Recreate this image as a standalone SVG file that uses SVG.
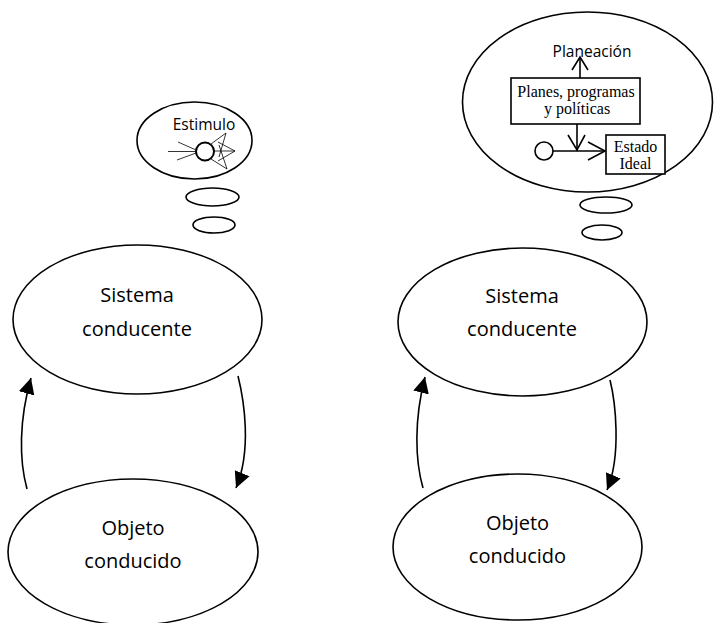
<svg xmlns="http://www.w3.org/2000/svg" width="714" height="623" viewBox="0 0 714 623">
<defs>
<style>
.sh{fill:#fff;stroke:#000;stroke-width:1.6}
.th{fill:none;stroke:#000;stroke-width:0.8}
.ln{fill:none;stroke:#000;stroke-width:1.6}
.lab{font-family:"Open Sans","Liberation Sans",sans-serif;font-size:20px;fill:#000;text-anchor:middle}
.sm{font-family:"Open Sans","Liberation Sans",sans-serif;font-size:15.5px;fill:#000;text-anchor:middle}
.tm{font-family:"Liberation Serif","Times New Roman",serif;font-size:16px;fill:#000;text-anchor:middle}
</style>
<marker id="ah" markerUnits="userSpaceOnUse" markerWidth="16" markerHeight="16" viewBox="0 0 15 15" refX="15" refY="7.5" orient="auto">
<path d="M0,0 L15,7.5 L0,15 Z" fill="#000"/>
</marker>
</defs>
<rect width="714" height="623" fill="#fff"/>

<g id="connectors">
<path class="ln" d="M27,489 C19,460 19,420 31,378" marker-end="url(#ah)"/>
<path class="ln" d="M238,376 C244,400 252,450 236,488" marker-end="url(#ah)"/>
<path class="ln" d="M423,488 C415,460 414,420 425,377" marker-end="url(#ah)"/>
<path class="ln" d="M610,380 C615,400 622,455 607,490" marker-end="url(#ah)"/>
</g>

<g id="left-thought">
<ellipse class="sh" cx="194.5" cy="140.5" rx="57.5" ry="38.5"/>
<ellipse class="sh" cx="212.5" cy="197" rx="26.5" ry="9"/>
<ellipse class="sh" cx="214" cy="225" rx="21" ry="8"/>
<text class="sm" x="204" y="130">Estimulo</text>
<g id="estimulo-star">
<line class="th" x1="178" y1="142" x2="196" y2="150"/>
<line class="th" x1="168" y1="151.5" x2="196" y2="151.5"/>
<line class="th" x1="177" y1="160" x2="196" y2="153"/>
<line class="th" x1="211" y1="144" x2="226" y2="133"/>
<line class="th" x1="219" y1="157" x2="226" y2="133"/>
<line class="th" x1="214" y1="151" x2="235" y2="151"/>
<line class="th" x1="218" y1="142" x2="235" y2="151"/>
<line class="th" x1="218" y1="161" x2="235" y2="151"/>
<line class="th" x1="211" y1="159" x2="227" y2="169"/>
<line class="th" x1="219" y1="145" x2="227" y2="169"/>
<circle cx="205" cy="151.5" r="9" fill="none" stroke="#000" stroke-width="2"/>
</g>
</g>

<g id="right-thought">
<ellipse class="sh" cx="587.5" cy="102" rx="125" ry="90"/>
<ellipse class="sh" cx="606" cy="205" rx="26" ry="8"/>
<ellipse class="sh" cx="602" cy="232.5" rx="20" ry="7.5"/>
<g id="planeacion">
<text class="sm" x="592" y="57">Planeación</text>
<line class="ln" x1="580" y1="57" x2="580" y2="78"/>
<polyline class="ln" points="572,70 580,57 588,70"/>
</g>
<g id="planes">
<rect class="sh" x="511" y="78" width="129" height="46"/>
<text class="tm" x="576" y="97">Planes, programas</text>
<text class="tm" x="577" y="114">y políticas</text>
</g>
<line class="ln" x1="577" y1="124" x2="577" y2="151"/>
<polyline class="ln" points="568,135 577,150 585,135"/>
<circle class="sh" cx="544" cy="151" r="9"/>
<line class="ln" x1="553" y1="151" x2="605" y2="151"/>
<polyline class="ln" points="588,142 605,151 588,160"/>
<g id="estado">
<rect class="sh" x="606" y="135" width="59" height="39"/>
<text class="tm" x="635.5" y="152">Estado</text>
<text class="tm" x="635.5" y="168.5">Ideal</text>
</g>
</g>

<g id="left-sistema">
<ellipse class="sh" cx="137.5" cy="319.5" rx="124.5" ry="74.5"/>
<text class="lab" x="137" y="302">Sistema</text>
<text class="lab" x="137" y="336">conducente</text>
</g>
<g id="left-objeto">
<ellipse class="sh" cx="133" cy="552" rx="125" ry="73"/>
<text class="lab" x="133" y="535">Objeto</text>
<text class="lab" x="133" y="568">conducido</text>
</g>
<g id="right-sistema">
<ellipse class="sh" cx="522.5" cy="322" rx="124.5" ry="74"/>
<text class="lab" x="522" y="303">Sistema</text>
<text class="lab" x="522" y="336">conducente</text>
</g>
<g id="right-objeto">
<ellipse class="sh" cx="517.5" cy="547" rx="124.5" ry="73"/>
<text class="lab" x="517.5" y="530">Objeto</text>
<text class="lab" x="517.5" y="563">conducido</text>
</g>
</svg>
